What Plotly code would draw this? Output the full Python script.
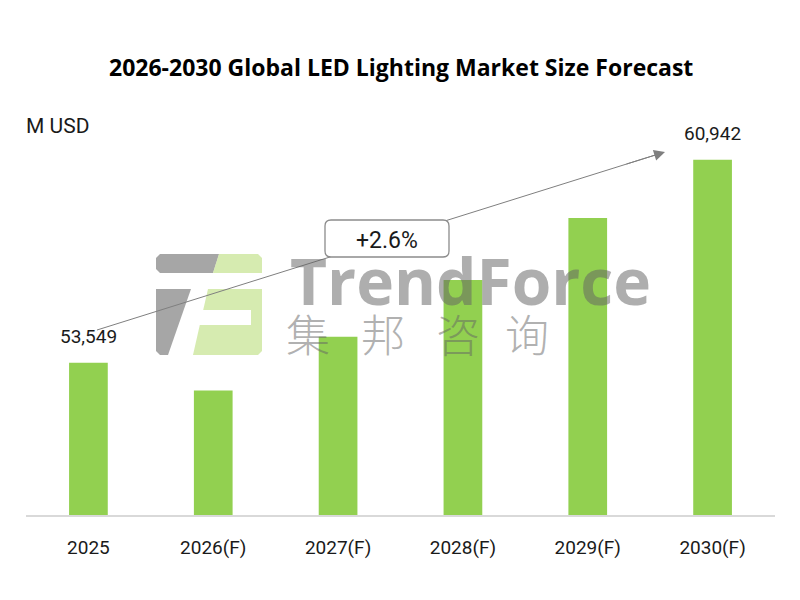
import plotly.graph_objects as go

# ---- data ----
categories = ["2025", "2026(F)", "2027(F)", "2028(F)", "2029(F)", "2030(F)"]
values = [53549, 52530, 54495, 56560, 58815, 60942]
labelled = {"2025": "53,549", "2030(F)": "60,942"}
cagr_text = "+2.6%"
title_text = "2026-2030 Global LED Lighting Market Size Forecast"
unit_text = "M USD"

W, H = 800, 600
ML, MR, MT, MB = 26, 25, 100, 85
PW = W - ML - MR
PH = H - MT - MB
Y0 = 48000
Y1 = Y0 + PH * 36.42


def px(x):
    return (x - ML) / PW


def py(y):
    return (H - MB - y) / PH


fig = go.Figure()
fig.add_trace(go.Bar(
    x=categories, y=values, marker=dict(color="#92D050", line=dict(width=0)),
    width=0.31, hoverinfo="skip", showlegend=False,
))

annotations = []
for i, (c, v) in enumerate(zip(categories, values)):
    if c in labelled:
        annotations.append(dict(
            x=i, y=v, xref="x", yref="y", text=labelled[c], showarrow=False,
            xanchor="center", yanchor="middle",
            yshift=26, font=dict(family="Roboto", size=19, color="#1a1a1a"),
        ))

shapes = []

# ---- watermark logo ----
def poly(pts, color):
    path = "M " + " L ".join(f"{px(a):.5f},{py(b):.5f}" for a, b in pts) + " Z"
    return dict(type="path", path=path, xref="paper", yref="paper",
                fillcolor=color, line=dict(width=0), layer="above")

gray_logo = "rgba(150,150,150,0.85)"
green_logo = "rgba(200,228,150,0.75)"
shapes.append(poly([(160, 254), (219, 254), (213, 273), (160, 273), (156, 269), (156, 258)], gray_logo))
shapes.append(poly([(219, 254), (258, 254), (262, 258), (262, 273), (213, 273)], green_logo))
shapes.append(poly([(156, 289), (191, 289), (168, 355), (160, 355), (156, 351)], gray_logo))
shapes.append(poly([(208, 289), (262, 289), (262, 351), (258, 355), (193, 355),
                    (199.8, 325), (251, 325), (251, 310), (203.2, 310)], green_logo))

# ---- arrow line and CAGR box ----
x_start, y_start = 97, 330
x_end, y_end = 665, 152
shapes.append(dict(type="line", xref="paper", yref="paper",
                   x0=px(x_start), y0=py(y_start), x1=px(x_end - 8), y1=py(y_end + 2.5),
                   line=dict(color="#7f7f7f", width=1), layer="above"))

bx0, bx1, by0, by1, r = 325, 449, 220, 257, 6
def pt(a, b):
    return f"{px(a):.5f},{py(b):.5f}"
box_path = (
    f"M {pt(bx0 + r, by0)} L {pt(bx1 - r, by0)} Q {pt(bx1, by0)} {pt(bx1, by0 + r)} "
    f"L {pt(bx1, by1 - r)} Q {pt(bx1, by1)} {pt(bx1 - r, by1)} "
    f"L {pt(bx0 + r, by1)} Q {pt(bx0, by1)} {pt(bx0, by1 - r)} "
    f"L {pt(bx0, by0 + r)} Q {pt(bx0, by0)} {pt(bx0 + r, by0)} Z"
)
shapes.append(dict(type="path", path=box_path, xref="paper", yref="paper",
                   fillcolor="white", line=dict(color="#8c8c8c", width=1.3), layer="above"))

annotations.append(dict(
    x=px(x_end), y=py(y_end), xref="paper", yref="paper", axref="pixel", ayref="pixel",
    ax=-40, ay=12.5, showarrow=True, arrowhead=2, arrowsize=2.2, arrowwidth=1,
    arrowcolor="#7f7f7f", text="",
))
annotations.append(dict(
    x=px((bx0 + bx1) / 2), y=py(240), xref="paper", yref="paper", text=cagr_text,
    xanchor="center", yanchor="middle",
    showarrow=False, font=dict(family="Roboto", size=23, color="#1a1a1a"),
))

# ---- watermark text ----
annotations.append(dict(
    x=px(470), y=py(280), xref="paper", yref="paper", text="TrendForce", showarrow=False,
    xanchor="center", yanchor="middle",
    font=dict(family="Open Sans", size=64, color="rgba(100,100,100,0.52)", weight=700),
))
for ch, cx in zip(["集", "邦", "咨", "询"], [308, 383, 458, 527]):
    annotations.append(dict(
        x=px(cx), y=py(333), xref="paper", yref="paper", text=ch, showarrow=False,
        xanchor="center", yanchor="middle",
        font=dict(family="Noto Sans CJK SC", size=44, color="rgba(100,100,100,0.5)", weight=300),
    ))

# ---- title & unit ----
annotations.append(dict(
    x=px(401), y=py(67), xref="paper", yref="paper", text=f"<b>{title_text}</b>",
    xanchor="center", yanchor="middle",
    showarrow=False, font=dict(family="Open Sans", size=23, color="#000000"),
))
annotations.append(dict(
    x=px(24), y=py(126), xref="paper", yref="paper", text=unit_text,
    xanchor="left", yanchor="middle",
    showarrow=False, font=dict(family="Roboto", size=21, color="#1a1a1a"),
))

fig.update_layout(
    width=W, height=H, margin=dict(l=ML, r=MR, t=MT, b=MB, autoexpand=False),
    paper_bgcolor="white", plot_bgcolor="white",
    xaxis=dict(type="category", range=[-0.5, len(categories) - 0.5], showgrid=False,
               zeroline=False, showline=True, linecolor="#d9d9d9",
               linewidth=1.5, ticks="", tickfont=dict(family="Roboto", size=19, color="#1a1a1a"),
               ticklabelstandoff=14, fixedrange=True),
    yaxis=dict(range=[Y0, Y1], visible=False, showgrid=False, zeroline=False, fixedrange=True),
    shapes=shapes, annotations=annotations, bargap=0.69,
)

fig.write_html("out.html", post_script="document.body.style.margin='0';",
               config={"displayModeBar": False})
